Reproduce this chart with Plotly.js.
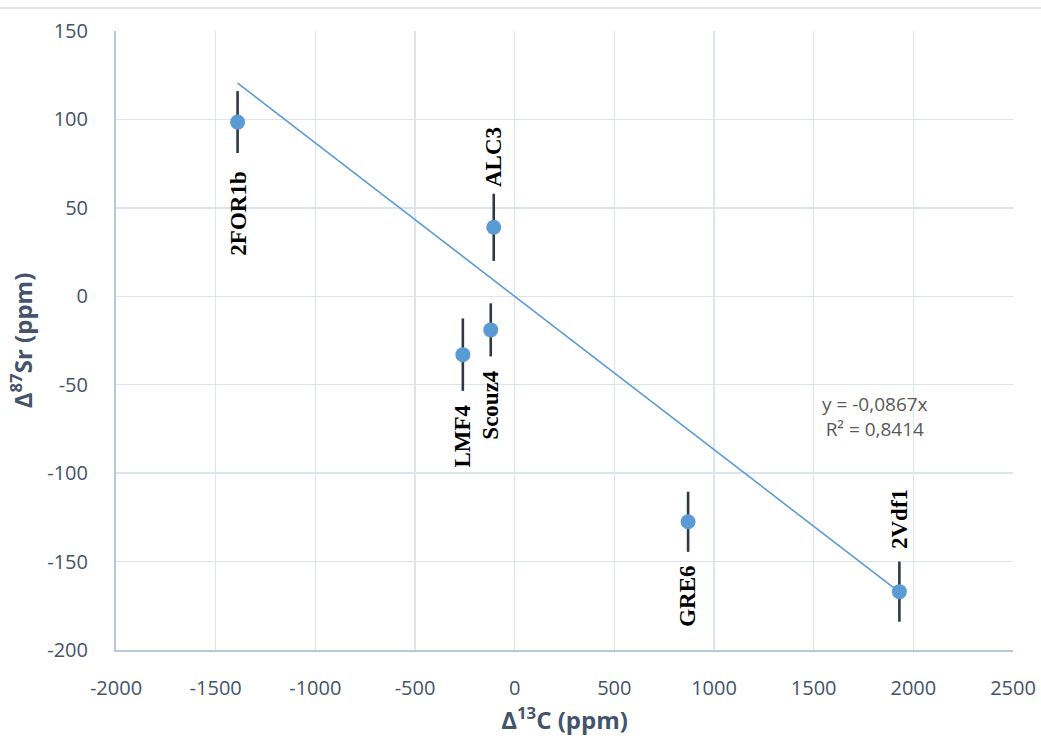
<!DOCTYPE html>
<html>
<head>
<meta charset="utf-8">
<script src="https://cdn.plot.ly/plotly-3.0.1.min.js"></script>
<style>html,body{margin:0;padding:0;background:#fff;}#chart{width:1041px;height:738px;}</style>
</head>
<body>
<div id="chart"></div>
<script>
// Data
const samples = ['2FOR1b', 'ALC3', 'Scouz4', 'LMF4', 'GRE6', '2Vdf1'];
const d13C = [-1390, -105, -120, -260, 870, 1930];
const d87Sr = [98.5, 39, -19, -33, -127.5, -167];
const d87SrErr = [17.5, 19, 15, 20.5, 17, 17];
const trendSlope = -0.0867;
const trendR2 = 0.8414;
const xTicks = [-2000, -1500, -1000, -500, 0, 500, 1000, 1500, 2000, 2500];
const yTicks = [-200, -150, -100, -50, 0, 50, 100, 150];

// label offsets in pixels (above = positive)
const labelShift = [-92, 70, -75, -81, -75, 73];

const xMin = Math.min(...d13C), xMax = Math.max(...d13C);
const trend = {
  x: [xMin, xMax],
  y: [trendSlope * xMin, trendSlope * xMax],
  mode: 'lines',
  line: {color: '#5b9bd5', width: 1.6},
  hoverinfo: 'skip',
  showlegend: false
};
const pts = {
  x: d13C, y: d87Sr,
  mode: 'markers',
  marker: {color: '#5b9bd5', size: 15},
  error_y: {type: 'data', array: d87SrErr, visible: true, color: '#2e3847', thickness: 2.6, width: 0},
  showlegend: false
};

const fmt = v => String(v).replace('.', ',');
const annotations = samples.map((s, i) => ({
  x: d13C[i], y: d87Sr[i], xref: 'x', yref: 'y',
  text: '<b>' + s + '</b>', showarrow: false, textangle: -90,
  yshift: labelShift[i],
  font: {family: 'Liberation Serif, Times New Roman, serif', size: 23, color: '#000'}
}));
annotations.push({
  xref: 'paper', yref: 'paper', x: 0.846, y: 0.378, xanchor: 'center', yanchor: 'middle',
  text: 'y = ' + fmt(trendSlope) + 'x<br>R² = ' + fmt(trendR2),
  showarrow: false, align: 'center',
  font: {family: 'Open Sans, Noto Sans, sans-serif', size: 19, color: '#595959'}
});

const axisFont = {family: 'Open Sans, Noto Sans, sans-serif', size: 20, color: '#44546a'};
const titleFont = {family: 'Open Sans, Noto Sans, sans-serif', size: 24, color: '#44546a'};
const layout = {
  width: 1041, height: 738,
  margin: {l: 116, r: 28, t: 31, b: 88},
  paper_bgcolor: '#fff', plot_bgcolor: '#fff',
  showlegend: false,
  xaxis: {
    range: [-2000, 2500], tickvals: xTicks, ticktext: xTicks.map(String),
    showgrid: true, gridcolor: '#dde4ee', gridwidth: 1.5,
    zeroline: false, showline: true, linecolor: '#b8c7db', linewidth: 2,
    ticks: '', tickfont: axisFont, automargin: false, ticklabelstandoff: 19,
    title: {text: '<b>Δ<sup>13</sup>C (ppm)</b>', font: titleFont, standoff: 4}
  },
  yaxis: {
    range: [-200, 150], tickvals: yTicks, ticktext: yTicks.map(String),
    showgrid: true, gridcolor: '#dde4ee', gridwidth: 1.5,
    zeroline: false, showline: true, linecolor: '#b8c7db', linewidth: 2,
    ticks: '', tickfont: axisFont, automargin: false, ticklabelstandoff: 22,
    title: {text: '<b>Δ<sup>87</sup>Sr (ppm)</b>', font: titleFont, standoff: 8}
  },
  annotations: annotations,
  shapes: [{type: 'line', xref: 'paper', yref: 'paper', x0: -0.13, x1: 1.04, y0: 1.037, y1: 1.037, line: {color: '#e4e4e4', width: 2}}]
};
Plotly.newPlot('chart', [trend, pts], layout, {displayModeBar: false, staticPlot: true});
</script>
</body>
</html>
